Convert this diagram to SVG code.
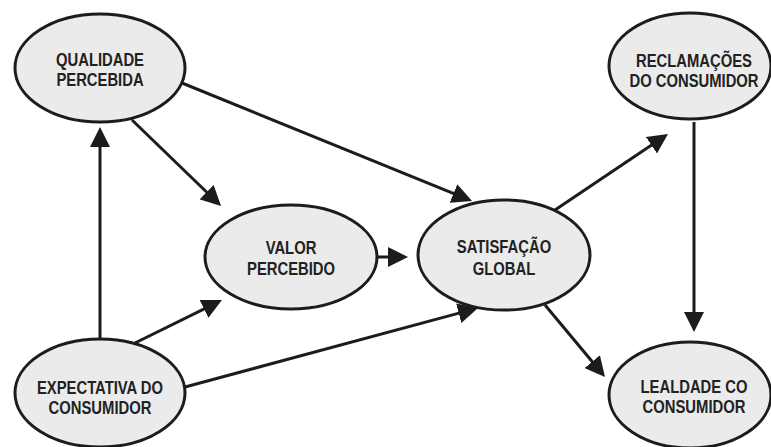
<svg xmlns="http://www.w3.org/2000/svg" width="771" height="447" viewBox="0 0 771 447">
  <style>
    .node ellipse { fill: #ebebeb; stroke: #1c1c1c; stroke-width: 3; }
    .node text { font-family: "Liberation Sans", Arial, sans-serif; font-weight: bold; font-size: 19px; fill: #222; text-anchor: middle; }
    .edge { fill: none; stroke: #1c1c1c; stroke-width: 3; marker-end: url(#head); }
  </style>
  <defs>
    <marker id="head" markerUnits="userSpaceOnUse" markerWidth="20" markerHeight="20" refX="7" refY="10" orient="auto">
      <path d="M0,0 L20,10 L0,20 z" fill="#1c1c1c"/>
    </marker>
  </defs>
  <rect width="771" height="447" fill="#fff"/>

  <!-- connectors -->
  <g id="connectors">
    <path class="edge" d="M100,340 L100,140"/>
    <path class="edge" d="M132,120 L211.7,197"/>
    <path class="edge" d="M182,83 L460,196.1"/>
    <path class="edge" d="M377,257 L395,257"/>
    <path class="edge" d="M135,343 L210.3,305.8"/>
    <path class="edge" d="M185,387 L465.5,311.4"/>
    <path class="edge" d="M555,210 L657.2,141.3"/>
    <path class="edge" d="M694,122 L694,319"/>
    <path class="edge" d="M545,305 L596.7,367"/>
  </g>

  <!-- nodes -->
  <g id="qualidade" class="node">
    <ellipse cx="100" cy="68" rx="85" ry="54"/>
    <text transform="translate(100 66) scale(0.78 1)"><tspan x="0" y="0">QUALIDADE</tspan><tspan x="0" y="20">PERCEBIDA</tspan></text>
  </g>
  <g id="valor" class="node">
    <ellipse cx="291" cy="257" rx="86" ry="52"/>
    <text transform="translate(291 254) scale(0.78 1)"><tspan x="0" y="0">VALOR</tspan><tspan x="0" y="21">PERCEBIDO</tspan></text>
  </g>
  <g id="satisfacao" class="node">
    <ellipse cx="504" cy="255" rx="86" ry="55"/>
    <text transform="translate(504 253) scale(0.78 1)"><tspan x="0" y="0">SATISFAÇÃO</tspan><tspan x="0" y="22">GLOBAL</tspan></text>
  </g>
  <g id="reclamacoes" class="node">
    <ellipse cx="690" cy="66" rx="81" ry="53"/>
    <text transform="translate(694 67) scale(0.78 1)"><tspan x="0" y="0">RECLAMAÇÕES</tspan><tspan x="0" y="20">DO CONSUMIDOR</tspan></text>
  </g>
  <g id="expectativa" class="node">
    <ellipse cx="100" cy="393" rx="85" ry="54"/>
    <text transform="translate(100 394) scale(0.78 1)"><tspan x="0" y="0">EXPECTATIVA DO</tspan><tspan x="0" y="20">CONSUMIDOR</tspan></text>
  </g>
  <g id="lealdade" class="node">
    <ellipse cx="690" cy="395" rx="81" ry="53"/>
    <text transform="translate(694 393) scale(0.78 1)"><tspan x="0" y="0">LEALDADE CO</tspan><tspan x="0" y="20">CONSUMIDOR</tspan></text>
  </g>
</svg>
